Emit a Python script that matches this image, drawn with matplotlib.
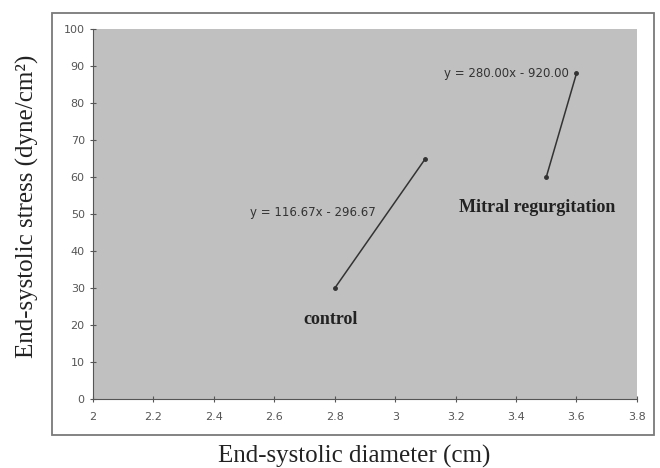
import matplotlib
matplotlib.use("Agg")
import matplotlib.pyplot as plt
from matplotlib.patches import Rectangle

control_x = [2.8, 3.1]
control_y = [30, 65]
mr_x = [3.5, 3.6]
mr_y = [60, 88]
x_ticks = [2.0, 2.2, 2.4, 2.6, 2.8, 3.0, 3.2, 3.4, 3.6, 3.8]
x_ticklabels = ["2", "2.2", "2.4", "2.6", "2.8", "3", "3.2", "3.4", "3.6", "3.8"]
y_ticks = [0, 10, 20, 30, 40, 50, 60, 70, 80, 90, 100]

fig = plt.figure(figsize=(6.6, 4.68), dpi=100)
fig.patch.set_facecolor("white")
fig.add_artist(Rectangle((0.079, 0.0705), 0.912, 0.902, transform=fig.transFigure,
                         fill=False, edgecolor="#7a7a7a", linewidth=1.3))
ax = fig.add_axes([0.141, 0.147, 0.824, 0.791])
ax.set_facecolor("#c0c0c0")
ax.plot(control_x, control_y, color="#333333", lw=1.1, marker="o", ms=2.5)
ax.plot(mr_x, mr_y, color="#333333", lw=1.1, marker="o", ms=2.5)
ax.set_xlim(2, 3.8)
ax.set_ylim(0, 100)
ax.set_xticks(x_ticks)
ax.set_xticklabels(x_ticklabels)
ax.set_yticks(y_ticks)
ax.tick_params(labelsize=8, colors="#555555", length=5, width=0.8, direction="inout")
ax.tick_params(axis="x", pad=7)
for s in ["top", "right"]:
    ax.spines[s].set_visible(False)
ax.spines["left"].set_color("#555555")
ax.spines["bottom"].set_color("#555555")

serif = "Liberation Serif"
ax.text(2.935, 50.5, "y = 116.67x - 296.67", fontsize=8.5, color="#333333",
        ha="right", va="center")
ax.text(3.576, 88, "y = 280.00x - 920.00", fontsize=8.5, color="#333333",
        ha="right", va="center")
ax.text(2.785, 21.4, "control", fontsize=13, fontweight="bold", family=serif,
        color="#222222", ha="center", va="center")
ax.text(3.47, 51.9, "Mitral regurgitation", fontsize=13, fontweight="bold", family=serif,
        color="#222222", ha="center", va="center")

fig.text(0.042, 0.559, "End-systolic stress (dyne/cm²)", rotation=90, fontsize=18,
         family=serif, ha="center", va="center", color="#222222")
fig.text(0.536, 0.024, "End-systolic diameter (cm)", fontsize=18, family=serif,
         ha="center", va="center", color="#222222")
fig.savefig("out.png", dpi=100)
